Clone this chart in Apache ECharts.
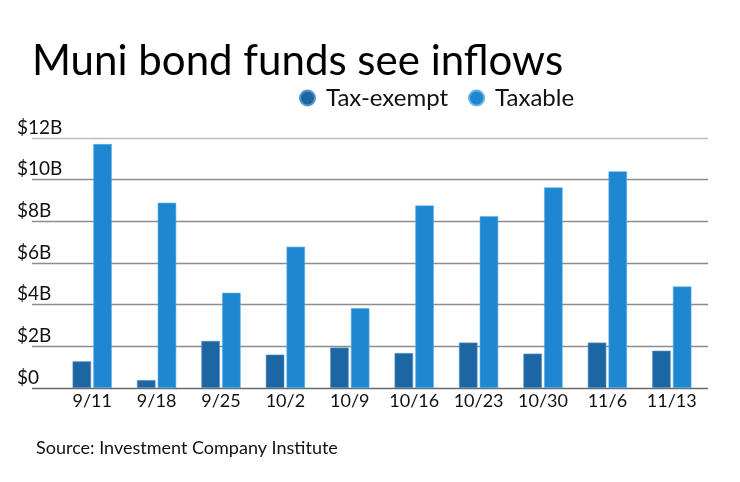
<!DOCTYPE html>
<html><head><meta charset="utf-8">
<script src="https://cdn.jsdelivr.net/npm/echarts@6/dist/echarts.min.js"></script>
<style>html,body{margin:0;padding:0;background:#fff}#c{width:740px;height:482px}</style>
</head><body><div id="c"></div>
<script>
const categories = ['9/11','9/18','9/25','10/2','10/9','10/16','10/23','10/30','11/6','11/13'];
const taxExempt = [1.28, 0.38, 2.26, 1.6, 1.94, 1.68, 2.18, 1.65, 2.18, 1.79];
const taxable = [11.71, 8.89, 4.57, 6.78, 3.83, 8.76, 8.25, 9.63, 10.4, 4.87];
const yTicks = [0, 2, 4, 6, 8, 10, 12];
const FONT = 'Lato';
const chart = echarts.init(document.getElementById('c'), null, {renderer:'canvas'});
const yMax = yTicks[yTicks.length-1];
chart.setOption({
  animation:false,
  backgroundColor:'#fff',
  textStyle:{fontFamily:FONT},
  title:[
    {text:'Muni bond funds see inflows', left:27, top:35, textStyle:{fontFamily:FONT, fontSize:42, fontWeight:'normal', color:'#000'}},
    {text:'Source: Investment Company Institute', left:31, top:434, textStyle:{fontFamily:FONT, fontSize:18, fontWeight:'normal', color:'#111'}}
  ],
  legend:{left:294, top:81, itemWidth:15, itemHeight:15, itemGap:20, icon:'circle',
    textStyle:{fontFamily:FONT, fontSize:24, color:'#111', padding:[0,0,0,6]}, data:['Tax-exempt','Taxable']},
  grid:[
    {left:32, right:32, top:138, bottom:94},
    {left:60, right:36, top:138, bottom:94}
  ],
  xAxis:[
    {gridIndex:0, type:'value', min:0, max:1, show:false},
    {gridIndex:1, type:'category', data:categories, axisLine:{show:false}, axisTick:{show:false},
     axisLabel:{fontFamily:FONT, fontSize:18, color:'#111', margin:4, interval:0}}
  ],
  yAxis:[
    {gridIndex:0, type:'value', min:0, max:yMax, interval:2, axisLine:{show:false}, axisTick:{show:false},
     splitLine:{lineStyle:{width:1.3, color:['#6a6a6a','#8c8c8c','#8c8c8c','#8c8c8c','#8c8c8c','#8c8c8c','#bdbdbd']}},
     axisLabel:{fontFamily:FONT, fontSize:19, color:'#111', align:'left', verticalAlign:'bottom', margin:15,
       padding:[0,0,1,0], formatter:v=> '$' + v + (v===0?'':'B')}},
    {gridIndex:1, type:'value', min:0, max:yMax, interval:2, show:false}
  ],
  series:[
    {name:'Tax-exempt', type:'bar', xAxisIndex:1, yAxisIndex:1, data:taxExempt, barWidth:18.5, barGap:'12%',
     itemStyle:{color:'#1c67a3', borderColor:'#5b93c2', borderWidth:0.6}},
    {name:'Taxable', type:'bar', xAxisIndex:1, yAxisIndex:1, data:taxable, barWidth:18.5, barGap:'12%',
     itemStyle:{color:'#1e87d2', borderColor:'#62aee6', borderWidth:0.6}}
  ]
});
</script></body></html>
